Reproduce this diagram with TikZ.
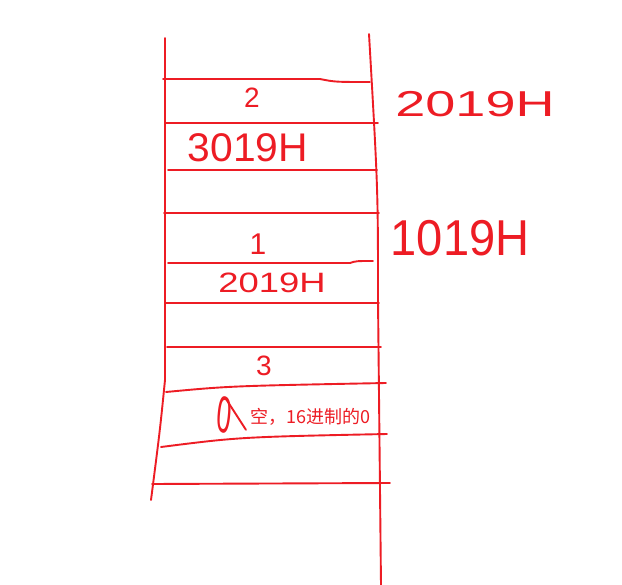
\documentclass[tikz,border=0pt]{standalone}
\usepackage{fontspec}
\setmainfont{Liberation Sans}
\newfontfamily\cjkfont{Noto Sans CJK SC}
\usetikzlibrary{positioning,calc}
\definecolor{InkRed}{RGB}{237,28,36}

\begin{document}
\begin{tikzpicture}[
    x=1pt, y=-1pt,
    ink/.style={draw=InkRed, line width=1.9pt, line cap=round, line join=round},
    hand/.style={text=InkRed, inner sep=0pt, font=\fontsize{#1}{#1}\selectfont},
    hand/.default=30,
    note/.style={text=InkRed, inner sep=0pt, font=\cjkfont\fontsize{18}{18}\selectfont}
  ]
    \fill[white] (0,0) rectangle (622,585);
    \useasboundingbox (0,0) rectangle (622,585);

    % Stack walls
    \draw[ink] (165,38) -- (165,380) .. controls (160,430) .. (151,500);
    \draw[ink] (369,34) .. controls (378,190) .. (378,300) -- (381,585);

    % Cells
    \draw[ink] (163,79) -- (320,79) .. controls (335,82) .. (370,82);
    \draw[ink] (166,123) -- (378,123);
    \draw[ink] (168,170) -- (377,170);
    \draw[ink] (164,213) -- (379,213);
    \draw[ink] (168,263) -- (350,263) .. controls (356,261) .. (373,261);
    \draw[ink] (166,303) -- (379,303);
    \draw[ink] (167,347) -- (381,347);
    \draw[ink] (166,392) .. controls (230,386) .. (386,383);
    \draw[ink] (161,447) .. controls (240,437) .. (387,434);
    \draw[ink] (152,484) -- (390,483);

    % Nodes
    \node[hand=28] (two) at (252,98) {2};
    \node[hand=40, xscale=1.02] (addrA) at (248,148) {3019H};
    \node[hand=36, xscale=1.5] (addrB) at (475,104) {2019H};
    \node[hand=30] (one) at (258,244) {1};
    \node[hand=28, xscale=1.3] (addrC) at (272,283) {2019H};
    \node[hand=42, xscale=1.12, yscale=1.2] (addrD) at (460,238) {1019H};
    \node[hand=28] (three) at (264,366) {3};
    \node[hand=52, xscale=0.5, rotate=-12] (zero) at (224,415) {0};
    \node[note, anchor=west] (empty) at (250,417) {空，16进制的0};

    % Pointer mark
    \draw[ink] ($(zero.north)+(0,2)$) -- ($(zero.north)+(20,33)$);
\end{tikzpicture}
\end{document}
